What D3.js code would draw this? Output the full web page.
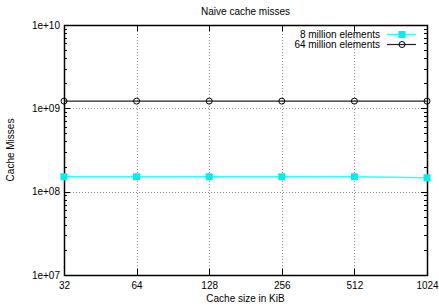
<!DOCTYPE html>
<html><head><meta charset="utf-8">
<script src="https://cdn.jsdelivr.net/npm/d3@7"></script>
<style>
html,body{margin:0;padding:0;background:#fff;}
text{font-family:"Liberation Sans",Arial,sans-serif;fill:#000;}
</style></head>
<body><svg id="c" width="439" height="308"></svg>
<script>
const cacheSizes = [32, 64, 128, 256, 512, 1024];
const misses8M = [1.51e8, 1.51e8, 1.51e8, 1.51e8, 1.51e8, 1.47e8];
const misses64M = [1.22e9, 1.22e9, 1.22e9, 1.22e9, 1.22e9, 1.22e9];
const yTicks = [1e7, 1e8, 1e9, 1e10];
const yTickLabels = ["1e+07", "1e+08", "1e+09", "1e+10"];
const seriesNames = ["8 million elements", "64 million elements"];

const svg = d3.select("#c");
const L = 64, R = 427, T = 25, B = 275;
const x = d3.scaleLog().base(2).domain([32, 1024]).range([L, R]);
const y = d3.scaleLog().domain([1e7, 1e10]).range([B, T]);

// grid
const g = svg.append("g");
cacheSizes.slice(1, -1).forEach(v => {
  g.append("line").attr("x1", Math.round(x(v)) + 0.5).attr("x2", Math.round(x(v)) + 0.5).attr("y1", T).attr("y2", B)
    .attr("stroke", "#888").attr("stroke-width", 1).attr("stroke-dasharray", "1,2");
});
yTicks.slice(1, -1).forEach(v => {
  g.append("line").attr("x1", L).attr("x2", R).attr("y1", Math.round(y(v)) + 0.5).attr("y2", Math.round(y(v)) + 0.5)
    .attr("stroke", "#888").attr("stroke-width", 1).attr("stroke-dasharray", "1,2");
});

// minor ticks on y
const minors = [];
for (let d = 1e7; d < 1e10; d *= 10) for (let k = 2; k <= 9; k++) minors.push(d * k);
minors.forEach(v => {
  const yy = Math.round(y(v)) + 0.5;
  svg.append("line").attr("x1", L).attr("x2", L + 3).attr("y1", yy).attr("y2", yy).attr("stroke", "#000");
  svg.append("line").attr("x1", R).attr("x2", R - 3).attr("y1", yy).attr("y2", yy).attr("stroke", "#000");
});
yTicks.forEach(v => {
  const yy = Math.round(y(v)) + 0.5;
  svg.append("line").attr("x1", L).attr("x2", L + 6).attr("y1", yy).attr("y2", yy).attr("stroke", "#000");
  svg.append("line").attr("x1", R).attr("x2", R - 6).attr("y1", yy).attr("y2", yy).attr("stroke", "#000");
});
cacheSizes.forEach(v => {
  const xx = Math.round(x(v)) + 0.5;
  svg.append("line").attr("x1", xx).attr("x2", xx).attr("y1", B).attr("y2", B - 6).attr("stroke", "#000");
  svg.append("line").attr("x1", xx).attr("x2", xx).attr("y1", T).attr("y2", T + 6).attr("stroke", "#000");
});

// axes labels via d3 axes (no lines)
const xAxis = d3.axisBottom(x).tickValues(cacheSizes).tickFormat(d3.format("d")).tickSize(0).tickPadding(7);
const xa = svg.append("g").attr("transform", `translate(0,${B})`).call(xAxis);
xa.select(".domain").remove();
xa.selectAll("text").attr("font-size", 10).attr("font-family", "Liberation Sans,Arial,sans-serif").attr("fill", "#000");
const yAxis = d3.axisLeft(y).tickValues(yTicks).tickFormat((d, i) => yTickLabels[i]).tickSize(0).tickPadding(4);
const ya = svg.append("g").attr("transform", `translate(${L},0)`).call(yAxis);
ya.select(".domain").remove();
ya.selectAll("text").attr("font-size", 10).attr("font-family", "Liberation Sans,Arial,sans-serif").attr("fill", "#000");

// frame
svg.append("rect").attr("x", L + 0.5).attr("y", T + 0.5).attr("width", R - L).attr("height", B - T)
  .attr("fill", "none").attr("stroke", "#000").attr("stroke-width", 1.5);

// series
const line = d3.line().x(d => x(d[0])).y(d => y(d[1]));
const d8 = cacheSizes.map((c, i) => [c, misses8M[i]]);
const d64 = cacheSizes.map((c, i) => [c, misses64M[i]]);
svg.append("path").datum(d8).attr("d", line).attr("fill", "none").attr("stroke", "#33ffff").attr("stroke-width", 1.5);
svg.selectAll(".sq").data(d8).enter().append("rect")
  .attr("x", d => x(d[0]) - 3.5).attr("y", d => y(d[1]) - 3.5).attr("width", 7).attr("height", 7).attr("fill", "#00eeee");
svg.append("path").datum(d64).attr("d", line).attr("fill", "none").attr("stroke", "#222").attr("stroke-width", 1.2);
svg.selectAll(".ci").data(d64).enter().append("circle")
  .attr("cx", d => x(d[0])).attr("cy", d => y(d[1])).attr("r", 3).attr("fill", "none").attr("stroke", "#000").attr("stroke-width", 1);

// legend
const lg = svg.append("g");
[0, 1].forEach(i => {
  const yy = 34.5 + i * 10;
  lg.append("text").attr("x", 380).attr("y", yy + 3.5).attr("text-anchor", "end").attr("font-size", 10).text(seriesNames[i]);
  lg.append("line").attr("x1", 387).attr("x2", 416).attr("y1", yy).attr("y2", yy)
    .attr("stroke", i === 0 ? "#33ffff" : "#222").attr("stroke-width", i === 0 ? 1.5 : 1.2);
  if (i === 0) lg.append("rect").attr("x", 398.5).attr("y", yy - 3.5).attr("width", 7).attr("height", 7).attr("fill", "#00eeee");
  else lg.append("circle").attr("cx", 402).attr("cy", yy).attr("r", 3).attr("fill", "none").attr("stroke", "#000");
});

// titles
svg.append("text").attr("x", (L + R) / 2).attr("y", 15).attr("text-anchor", "middle").attr("font-size", 10).text("Naive cache misses");
svg.append("text").attr("x", (L + R) / 2).attr("y", 302).attr("text-anchor", "middle").attr("font-size", 10).text("Cache size in KiB");
svg.append("text").attr("transform", `translate(14,${(T + B) / 2}) rotate(-90)`).attr("text-anchor", "middle").attr("font-size", 10).text("Cache Misses");
</script></body></html>
